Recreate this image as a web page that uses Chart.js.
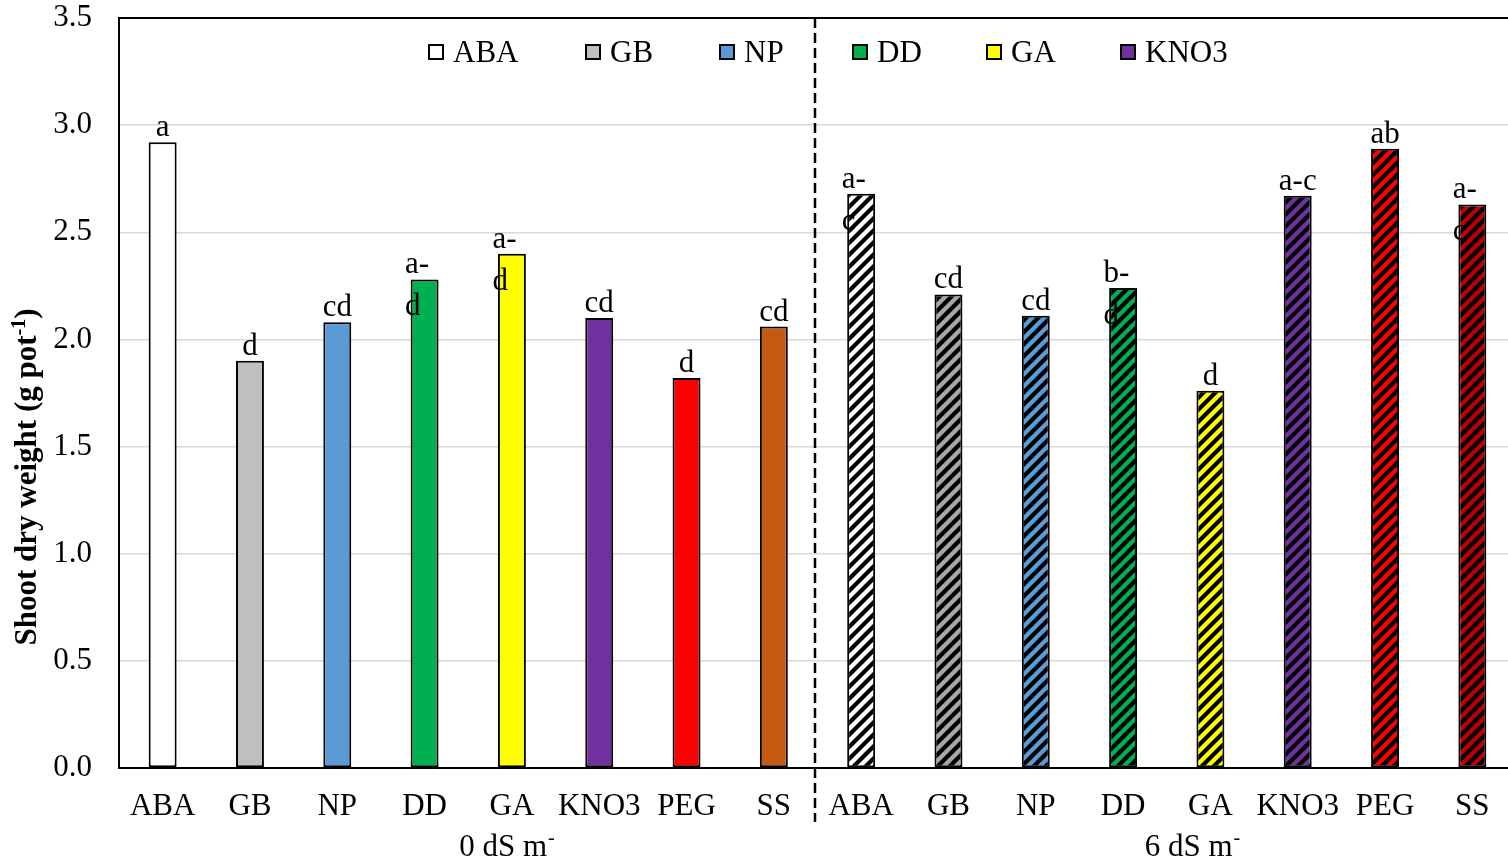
<!DOCTYPE html>
<html>
<head>
<meta charset="utf-8">
<title>Shoot dry weight</title>
<script src="https://cdn.jsdelivr.net/npm/chart.js@4.4.0/dist/chart.umd.min.js"></script>
<style>
    html, body { margin: 0; padding: 0; background: #fff; overflow: hidden; }
    #wrap { width: 1517px; height: 880px; }
</style>
</head>
<body>
<div id="wrap"><canvas id="shootChart" width="1517" height="880"></canvas></div>
<script>
/* ================================
   DATA
   ================================ */
const treatments = ['ABA', 'GB', 'NP', 'DD', 'GA', 'KNO3', 'PEG', 'SS'];
const salinity = ['0 dS m', '6 dS m'];
const weight0 = [2.92, 1.90, 2.08, 2.28, 2.40, 2.10, 1.82, 2.06];
const weight6 = [2.68, 2.21, 2.11, 2.24, 1.76, 2.67, 2.89, 2.63];
const letters0 = ['a', 'd', 'cd', 'a-\nd', 'a-\nd', 'cd', 'd', 'cd'];
const letters6 = ['a-\nc', 'cd', 'cd', 'b-\nd', 'd', 'a-c', 'ab', 'a-\nc'];
const yTickLabels = ['0.0', '0.5', '1.0', '1.5', '2.0', '2.5', '3.0', '3.5'];
const legendItems = ['ABA', 'GB', 'NP', 'DD', 'GA', 'KNO3'];

// bar colours (second salinity level gets black diagonal hatching)
const colors0 = ['#FFFFFF', '#BFBFBF', '#5B9BD5', '#00B050', '#FFFF00', '#7030A0', '#FF0000', '#C55A11'];
const colors6 = ['#FFFFFF', '#A6A6A6', '#5B9BD5', '#00B050', '#FFFF00', '#7030A0', '#FF0000', '#C00000'];

const SERIF = '"Liberation Serif", "Times New Roman", serif';
Chart.defaults.font.family = SERIF;
Chart.defaults.color = '#000';

// Diagonal "/" hatch pattern
function hatch(color) {
    const s = 12;
    const c = document.createElement('canvas');
    c.width = s; c.height = s;
    const g = c.getContext('2d');
    g.fillStyle = color;
    g.fillRect(0, 0, s, s);
    g.strokeStyle = '#000';
    g.lineWidth = 4.2;
    g.beginPath();
    g.moveTo(-3, s + 3); g.lineTo(s + 3, -3);
    g.moveTo(-3, 3); g.lineTo(3, -3);
    g.moveTo(s - 3, s + 3); g.lineTo(s + 3, s - 3);
    g.stroke();
    return g.createPattern(c, 'repeat');
}

const labels = treatments.concat(treatments);
const values = weight0.concat(weight6);
const letters = letters0.concat(letters6);
const fills = colors0.concat(colors6.map(hatch));

// Custom drawing: frame, separator, legend, letters, titles
const overlay = {
    id: 'overlay',
    afterDatasetsDraw(chart) {
        const ctx = chart.ctx;
        const meta = chart.getDatasetMeta(0);
        ctx.save();
        ctx.font = '31px ' + SERIF;
        ctx.fillStyle = '#000';
        ctx.textBaseline = 'alphabetic';
        meta.data.forEach(function(bar, i) {
            const lines = letters[i].split('\n');
            if (lines.length === 1) {
                ctx.textAlign = 'center';
                ctx.fillText(lines[0], bar.x, bar.y - 6);
            } else {
                ctx.textAlign = 'left';
                ctx.fillText(lines[0], bar.x - 19.5, bar.y - 6);
                ctx.fillText(lines[1], bar.x - 19.5, bar.y + 36);
            }
        });
        ctx.restore();
    },
    afterDraw(chart) {
        const ctx = chart.ctx;
        const area = chart.chartArea;
        const x = chart.scales.x;
        ctx.save();

        // top frame line
        ctx.strokeStyle = '#000';
        ctx.lineWidth = 2;
        ctx.beginPath();
        ctx.moveTo(area.left - 1, area.top);
        ctx.lineTo(area.right, area.top);
        ctx.stroke();

        // dashed separator between salinity levels
        const sx = Math.round(x.getPixelForValue(treatments.length - 0.5)) - 3;
        ctx.setLineDash([10, 5]);
        ctx.lineWidth = 2.5;
        ctx.beginPath();
        ctx.moveTo(sx, area.top);
        ctx.lineTo(sx, 822);
        ctx.stroke();
        ctx.setLineDash([]);

        // legend
        const legendX = [428, 585, 719, 852, 986, 1120];
        ctx.font = '31px ' + SERIF;
        ctx.textAlign = 'left';
        ctx.textBaseline = 'alphabetic';
        legendItems.forEach(function(name, i) {
            const bx = legendX[i];
            ctx.fillStyle = colors0[i];
            ctx.fillRect(bx + 1, 45, 14, 14);
            ctx.lineWidth = 2;
            ctx.strokeStyle = '#000';
            ctx.strokeRect(bx + 1, 45, 14, 14);
            ctx.fillStyle = '#000';
            ctx.fillText(name, bx + 25, 62);
        });

        // salinity group labels with superscript
        const groupAt = [3.9, 11.75];
        salinity.forEach(function(name, g) {
            ctx.font = '31px ' + SERIF;
            const w = ctx.measureText(name).width;
            const cx = x.getPixelForValue(groupAt[g]);
            ctx.fillText(name, cx - w / 2, 856);
            ctx.font = '20px ' + SERIF;
            ctx.fillText('-', cx + w / 2 + 1, 844);
        });

        // y axis title (rotated, with superscript)
        ctx.translate(36, 477);
        ctx.rotate(-Math.PI / 2);
        const main = 'Shoot dry weight (g pot';
        ctx.font = 'bold 31px ' + SERIF;
        const w1 = ctx.measureText(main).width;
        const w3 = ctx.measureText(')').width;
        ctx.font = 'bold 20px ' + SERIF;
        const w2 = ctx.measureText('-1').width;
        let tx = -(w1 + w2 + w3) / 2;
        ctx.font = 'bold 31px ' + SERIF;
        ctx.fillText(main, tx, 0);
        tx += w1;
        ctx.font = 'bold 20px ' + SERIF;
        ctx.fillText('-1', tx, -11);
        tx += w2;
        ctx.font = 'bold 31px ' + SERIF;
        ctx.fillText(')', tx, 0);

        ctx.restore();
    }
};

new Chart(document.getElementById('shootChart'), {
    type: 'bar',
    data: {
        labels: labels,
        datasets: [{
            data: values,
            backgroundColor: fills,
            borderColor: '#000',
            borderWidth: 2,
            borderSkipped: false,
            barPercentage: 0.32,
            categoryPercentage: 1
        }]
    },
    options: {
        responsive: false,
        devicePixelRatio: 1,
        animation: false,
        layout: { padding: { top: 18, right: 1, left: 0, bottom: 0 } },
        plugins: {
            legend: { display: false },
            tooltip: { enabled: false }
        },
        scales: {
            x: {
                grid: { display: false, drawTicks: false },
                border: { color: '#000', width: 2 },
                ticks: {
                    color: '#000',
                    font: { size: 31 },
                    padding: 20,
                    maxRotation: 0,
                    autoSkip: false
                },
                afterFit: function(scale) {
                    scale.height = 112;
                    scale.paddingLeft = 0;
                    scale.paddingRight = 0;
                }
            },
            y: {
                min: 0,
                max: 3.5,
                grid: { color: '#d9d9d9', lineWidth: 1.5, drawTicks: false },
                border: { color: '#000', width: 2 },
                ticks: {
                    stepSize: 0.5,
                    color: '#000',
                    font: { size: 31 },
                    padding: 27,
                    callback: function(v, i) { return yTickLabels[i]; }
                },
                afterFit: function(scale) {
                    scale.width = 119;
                    scale.paddingTop = 0;
                    scale.paddingBottom = 0;
                }
            }
        }
    },
    plugins: [overlay]
});
</script>
</body>
</html>
